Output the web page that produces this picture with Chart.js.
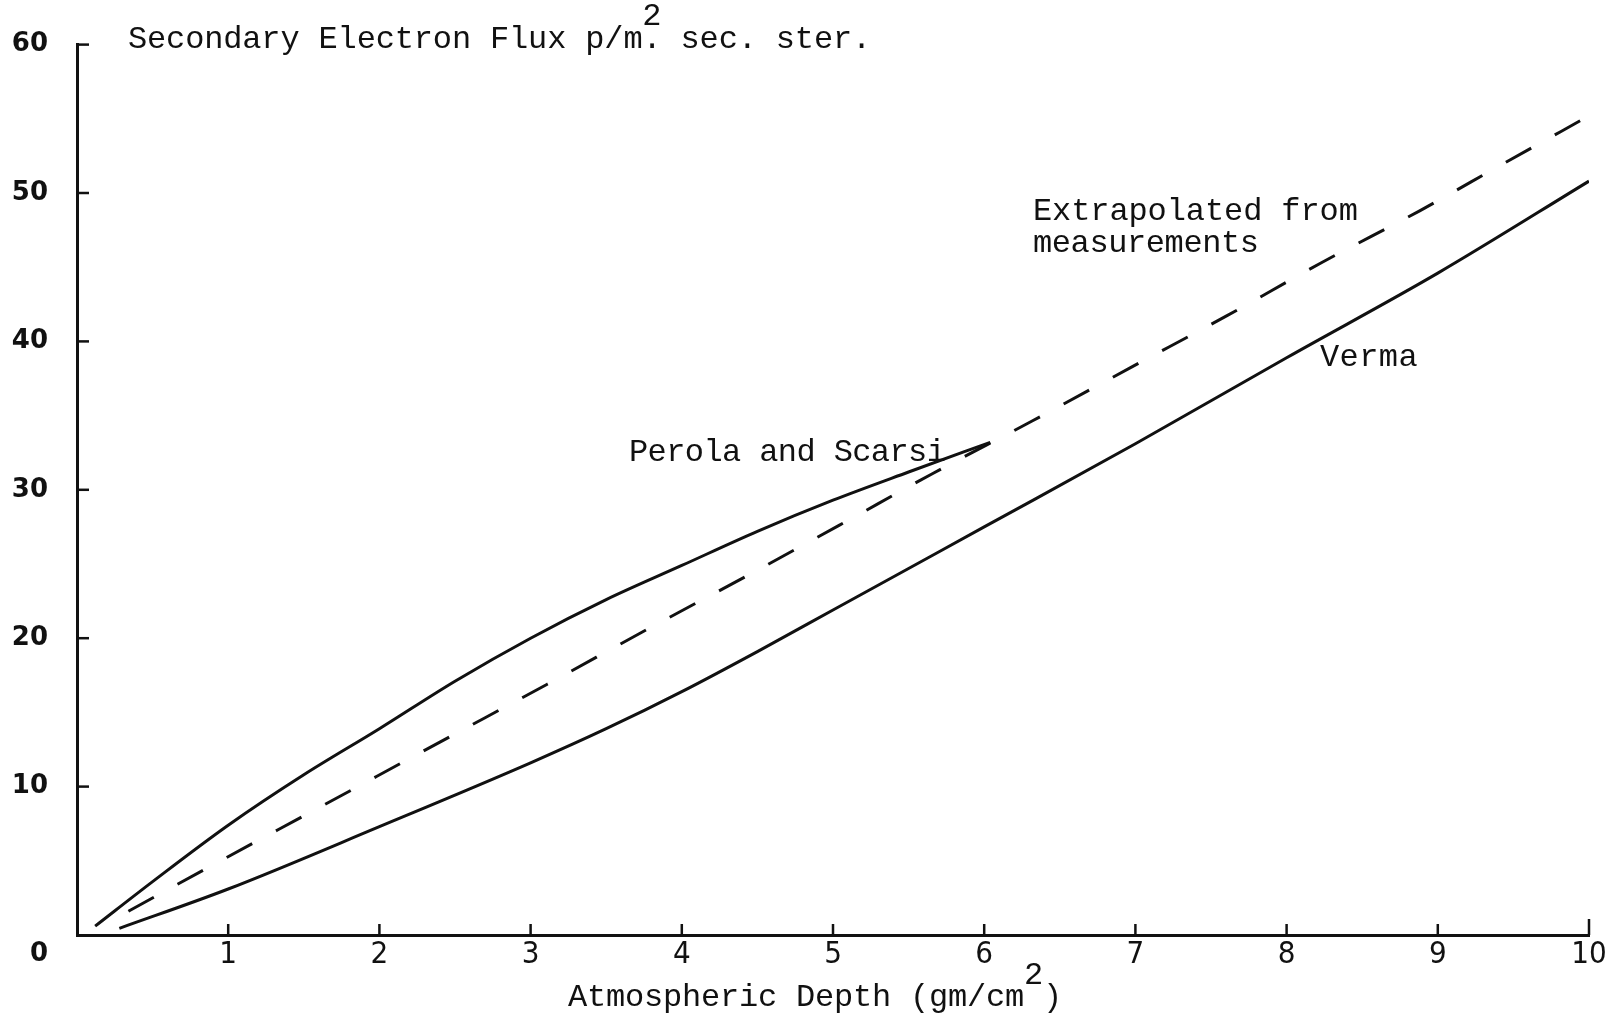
<!DOCTYPE html>
<html>
<head>
<meta charset="utf-8">
<script src="https://cdn.jsdelivr.net/npm/chart.js@4.4.1/dist/chart.umd.min.js"></script>
<style>
  html, body { margin: 0; padding: 0; background: #ffffff; }
  #wrap { width: 1611px; height: 1020px; position: relative; }
</style>
</head>
<body>
<div id="wrap"><canvas id="c" width="1611" height="1020"></canvas></div>
<script>
// ---- data ----
const xTicks = [0, 1, 2, 3, 4, 5, 6, 7, 8, 9, 10];
const yTicks = [0, 10, 20, 30, 40, 50, 60];

const perolaDepth = [0.12, 0.5, 1.0, 1.5, 2.0, 2.5, 3.0, 3.5, 4.0, 4.5, 5.0, 5.5, 6.04];
const perolaFlux  = [0.6, 3.6, 7.4, 10.8, 13.9, 17.1, 20.0, 22.6, 24.9, 27.2, 29.3, 31.2, 33.2];

const extrapDepth = [0.34, 0.85, 1.64, 2.4, 3.11, 3.79, 4.43, 5.04, 5.66, 6.32, 6.98, 7.6, 8.23, 8.88, 9.42, 10.0];
const extrapFlux  = [1.6, 4.45, 8.8, 13.0, 16.9, 20.7, 24.2, 27.6, 31.1, 34.65, 38.3, 41.7, 45.3, 48.8, 51.9, 55.2];

const vermaDepth = [0.28, 1.0, 2.0, 3.0, 3.5, 4.0, 4.5, 5.0, 6.0, 7.0, 8.0, 9.0, 10.0];
const vermaFlux  = [0.45, 3.1, 7.3, 11.6, 13.9, 16.4, 19.1, 21.9, 27.5, 33.1, 38.9, 44.6, 50.8];

const titleText = "Secondary Electron Flux p/m. sec. ster.";
const xTitleText = "Atmospheric Depth (gm/cm";
const labelPerola = "Perola and Scarsi";
const labelExtrap1 = "Extrapolated from";
const labelExtrap2 = "measurements";
const labelVerma = "Verma";

function pts(xs, ys) { return xs.map((x, i) => ({ x: x, y: ys[i] })); }

const INK = '#111111';
const MONO = "'Liberation Mono', 'DejaVu Sans Mono', monospace";
const FS = 32;            // typewriter font size
const ADV = FS * 0.6;     // natural advance of the mono font

function monoText(ctx, text, x, baseline, step) {
  ctx.save();
  ctx.font = FS + 'px ' + MONO;
  ctx.fillStyle = INK;
  ctx.textAlign = 'left';
  ctx.textBaseline = 'alphabetic';
  try { ctx.letterSpacing = (step - ADV) + 'px'; } catch (e) {}
  ctx.fillText(text, x, baseline);
  ctx.restore();
}

const decor = {
  id: 'decor',
  afterDraw(chart) {
    const ctx = chart.ctx;
    const xs = chart.scales.x, ys = chart.scales.y;
    const left = chart.chartArea.left, bottom = chart.chartArea.bottom;
    ctx.save();
    ctx.strokeStyle = INK;
    ctx.lineWidth = 2.5;
    ctx.lineCap = 'butt';
    yTicks.forEach(v => {
      if (v === 0) return;
      const py = ys.getPixelForValue(v);
      ctx.beginPath(); ctx.moveTo(left, py); ctx.lineTo(left + 12, py); ctx.stroke();
    });
    xTicks.forEach(v => {
      if (v === 0) return;
      const px = xs.getPixelForValue(v);
      const len = v === 10 ? 16 : 11;
      ctx.beginPath(); ctx.moveTo(px, bottom); ctx.lineTo(px, bottom - len); ctx.stroke();
    });
    ctx.restore();

    // shared origin label
    ctx.save();
    ctx.font = "bold 26px 'DejaVu Sans', sans-serif";
    ctx.fillStyle = INK;
    ctx.textAlign = 'right';
    ctx.textBaseline = 'middle';
    ctx.fillText(String(yTicks[0]), left - 29, bottom + 19);
    ctx.restore();

    // y-axis heading at top
    const step = 19.05;
    monoText(ctx, titleText, 128, 48, step);
    monoText(ctx, "2", 128 + 27 * step, 25, step);

    // curve labels
    monoText(ctx, labelPerola, 629, 461, 18.6);
    monoText(ctx, labelExtrap1, 1033, 220, 19.1);
    monoText(ctx, labelExtrap2, 1033, 252, 18.8);
    monoText(ctx, labelVerma, 1320, 366, 19.6);

    // x-axis title
    const xs2 = 19.0;
    monoText(ctx, xTitleText, 568, 1006, xs2);
    monoText(ctx, "2", 568 + 24 * xs2, 984, xs2);
    monoText(ctx, ")", 568 + 25 * xs2, 1006, xs2);
  }
};

const lineBase = {
  showLine: true,
  pointRadius: 0,
  pointHoverRadius: 0,
  borderColor: INK,
  backgroundColor: INK,
  fill: false,
  cubicInterpolationMode: 'monotone'
};

new Chart(document.getElementById('c'), {
  type: 'scatter',
  data: {
    datasets: [
      Object.assign({}, lineBase, { label: labelPerola, data: pts(perolaDepth, perolaFlux), borderWidth: 3 }),
      Object.assign({}, lineBase, { label: labelExtrap1 + ' ' + labelExtrap2, data: pts(extrapDepth, extrapFlux), borderWidth: 3, borderDash: [29, 27] }),
      Object.assign({}, lineBase, { label: labelVerma, data: pts(vermaDepth, vermaFlux), borderWidth: 3 })
    ]
  },
  options: {
    responsive: false,
    animation: false,
    devicePixelRatio: 1,
    layout: { padding: { left: 0, right: 22, top: 31, bottom: 0 } },
    plugins: {
      legend: { display: false },
      tooltip: { enabled: false },
      title: { display: false }
    },
    scales: {
      x: {
        type: 'linear',
        min: xTicks[0],
        max: xTicks[xTicks.length - 1],
        afterBuildTicks: (s) => { s.ticks = xTicks.map(v => ({ value: v })); },
        afterFit: (s) => { s.height = 85; },
        ticks: {
          autoSkip: false,
          maxRotation: 0,
          padding: 1,
          color: INK,
          font: { family: "'Liberation Sans Narrow', 'DejaVu Sans Condensed', 'Liberation Sans', sans-serif", size: 31 },
          callback: (v) => v === 0 ? '' : String(v)
        },
        grid: { display: true, drawOnChartArea: false, drawTicks: false, color: 'rgba(0,0,0,0)' },
        border: { display: true, color: INK, width: 3 }
      },
      y: {
        type: 'linear',
        min: yTicks[0],
        max: yTicks[yTicks.length - 1],
        afterBuildTicks: (s) => { s.ticks = yTicks.map(v => ({ value: v })); },
        afterFit: (s) => { s.width = 77; },
        ticks: {
          autoSkip: false,
          padding: 29,
          color: INK,
          font: { family: "'DejaVu Sans', sans-serif", size: 26, weight: 'bold' },
          callback: (v) => v === 0 ? '' : String(v)
        },
        grid: { display: true, drawOnChartArea: false, drawTicks: false, color: 'rgba(0,0,0,0)' },
        border: { display: true, color: INK, width: 3 }
      }
    }
  },
  plugins: [decor]
});
</script>
</body>
</html>
